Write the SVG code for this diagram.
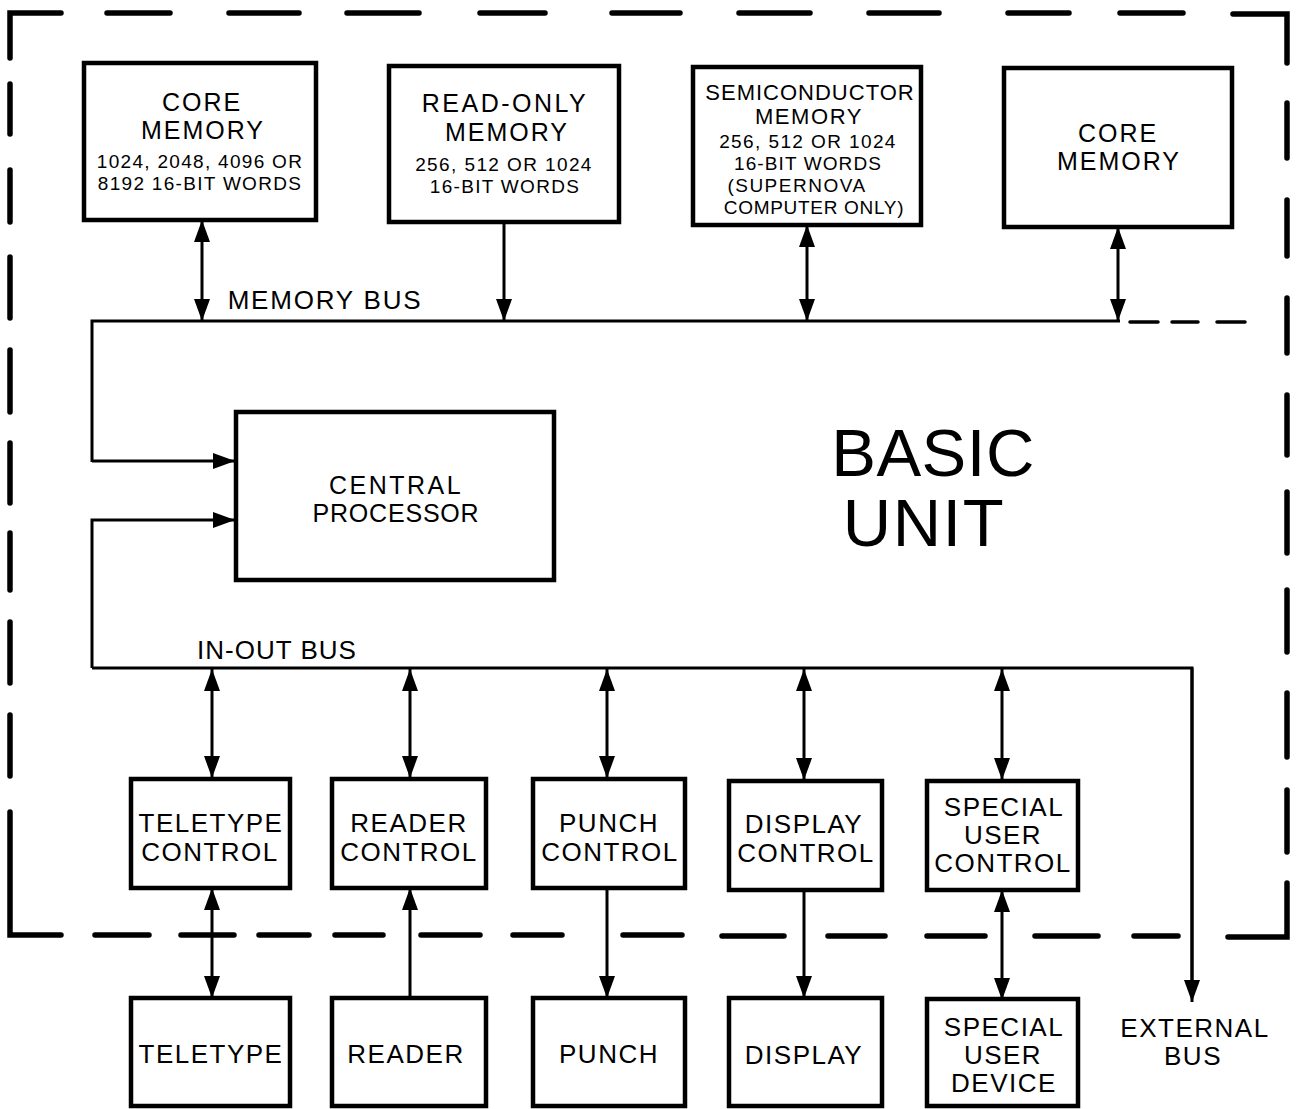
<svg xmlns="http://www.w3.org/2000/svg" width="1296" height="1109" viewBox="0 0 1296 1109">
<defs>
<marker id="ah" viewBox="0 0 22 16" refX="22" refY="8" markerWidth="22" markerHeight="16" markerUnits="userSpaceOnUse" orient="auto-start-reverse">
<path d="M0,0 L22,8 L0,16 Z" fill="#000"/>
</marker>
<style>
.box{fill:#fff;stroke:#000;stroke-width:4.5;stroke-linejoin:miter}
.t{font-family:"Liberation Sans",Arial,Helvetica,sans-serif;fill:#000;text-anchor:middle}
.lbl{font-size:26px;letter-spacing:1.5px}
.sm{font-size:19px;letter-spacing:1.3px}
.mem{font-size:25px;letter-spacing:2px}
.ln{fill:none;stroke:#000;stroke-width:3}
.arr2{fill:none;stroke:#000;stroke-width:3;marker-start:url(#ah);marker-end:url(#ah)}
.arr1{fill:none;stroke:#000;stroke-width:3;marker-end:url(#ah)}
.bd{fill:none;stroke:#000;stroke-width:5.5;stroke-linecap:round;stroke-linejoin:miter}
</style>
</defs>
<rect width="1296" height="1109" fill="#fff"/>

<g id="basic-unit-border">
<path class="bd" d="M10,58 L10,13 L61,13"/>
<path class="bd" d="M107,13H170M229,13H299M347,13H419M480,13H545M612,13H680M739,13H810M869,13H939M1008,13H1069M1120,13H1183"/>
<path class="bd" d="M1233,14 L1287,14 L1287,63"/>
<path class="bd" d="M1287,103V158M1287,200V256M1287,298V353M1287,395V455M1287,492V553M1287,590V652M1287,693V757M1287,790V852"/>
<path class="bd" d="M1287,883 L1287,937 L1228,937"/>
<path class="bd" d="M10,84V134M10,170V222M10,257V318M10,350V412M10,443V503M10,533V590M10,622V683M10,715V776"/>
<path class="bd" d="M10,812 L10,935 L61,935"/>
<path class="bd" d="M95,935H149M181,935H234M259,935H309M335,935H383M421,935H480M513,935H562M623,935H682M722,936H784M828,936H885M927,936H985M1035,936H1098M1134,936H1178"/>
<path class="bd" d="M1130,322H1158M1172,322H1198M1217,322H1245" style="stroke-width:3.5"/>
</g>

<g id="connectors">
<path class="ln" d="M1120,321 H92 V462"/>
<path class="arr1" d="M92,461 H235"/>
<path class="arr1" d="M92,668 V520 H235"/>
<path class="ln" d="M92,668 H1192 V980"/>
<path class="arr1" d="M1192,668 V1002"/>
<path class="arr2" d="M202,220 V321"/>
<path class="arr1" d="M504,222 V321"/>
<path class="arr2" d="M807,225 V321"/>
<path class="arr2" d="M1118,227 V321"/>
<path class="arr2" d="M212,669 V778"/>
<path class="arr2" d="M410,669 V778"/>
<path class="arr2" d="M607,669 V778"/>
<path class="arr2" d="M804,669 V780"/>
<path class="arr2" d="M1002,669 V780"/>
<path class="arr2" d="M212,888 V998"/>
<path class="arr1" d="M410,998 V888"/>
<path class="arr1" d="M607,888 V998"/>
<path class="arr1" d="M804,890 V998"/>
<path class="arr2" d="M1002,890 V1000"/>
</g>

<g id="labels">
<text class="t" x="325" y="309" style="font-size:26px;letter-spacing:1.8px">MEMORY BUS</text>
<text class="t" x="277" y="659" style="font-size:26px;letter-spacing:1px">IN-OUT BUS</text>
<text class="t" x="933" y="476" style="font-size:67px;letter-spacing:0.5px">BASIC</text>
<text class="t" x="924" y="546" style="font-size:67px;letter-spacing:1.5px">UNIT</text>
<text class="t lbl" x="1195" y="1037">EXTERNAL</text>
<text class="t lbl" x="1193" y="1065">BUS</text>
</g>

<g id="core-memory-1">
<rect class="box" x="84" y="63" width="232" height="157"/>
<text class="t mem" x="202" y="111">CORE</text>
<text class="t mem" x="203" y="139">MEMORY</text>
<text class="t sm" x="200" y="168">1024, 2048, 4096 OR</text>
<text class="t sm" x="200" y="190">8192 16-BIT WORDS</text>
</g>

<g id="read-only-memory">
<rect class="box" x="389" y="66" width="230" height="156"/>
<text class="t" x="505" y="112" style="font-size:25px;letter-spacing:2.5px">READ-ONLY</text>
<text class="t mem" x="507" y="141">MEMORY</text>
<text class="t" x="504" y="171" style="font-size:19px;letter-spacing:1.4px">256, 512 OR 1024</text>
<text class="t sm" x="505" y="193">16-BIT WORDS</text>
</g>

<g id="semiconductor-memory">
<rect class="box" x="693" y="67" width="228" height="158"/>
<text class="t" x="810" y="100" style="font-size:22px;letter-spacing:1px">SEMICONDUCTOR</text>
<text class="t" x="809" y="124" style="font-size:22px;letter-spacing:1.6px">MEMORY</text>
<text class="t" x="808" y="148" style="font-size:19px;letter-spacing:1.4px">256, 512 OR 1024</text>
<text class="t" x="808" y="170" style="font-size:19px;letter-spacing:1.1px">16-BIT WORDS</text>
<text class="t" x="797" y="192" style="font-size:19px;letter-spacing:1.5px">(SUPERNOVA</text>
<text class="t" x="814" y="214" style="font-size:19px;letter-spacing:0.7px">COMPUTER ONLY)</text>
</g>

<g id="core-memory-2">
<rect class="box" x="1004" y="68" width="228" height="159"/>
<text class="t mem" x="1118" y="142">CORE</text>
<text class="t mem" x="1119" y="170">MEMORY</text>
</g>

<g id="central-processor">
<rect class="box" x="236" y="412" width="318" height="168"/>
<text class="t" x="396" y="494" style="font-size:25px;letter-spacing:2.5px">CENTRAL</text>
<text class="t" x="396" y="522" style="font-size:25px;letter-spacing:0.8px">PROCESSOR</text>
</g>

<g id="teletype-control">
<rect class="box" x="131" y="779" width="159" height="109"/>
<text class="t lbl" x="211" y="832">TELETYPE</text>
<text class="t lbl" x="210" y="861">CONTROL</text>
</g>
<g id="reader-control">
<rect class="box" x="332" y="779" width="154" height="109"/>
<text class="t lbl" x="409" y="832">READER</text>
<text class="t lbl" x="409" y="861">CONTROL</text>
</g>
<g id="punch-control">
<rect class="box" x="533" y="779" width="152" height="109"/>
<text class="t lbl" x="609" y="832">PUNCH</text>
<text class="t lbl" x="610" y="861">CONTROL</text>
</g>
<g id="display-control">
<rect class="box" x="729" y="781" width="153" height="109"/>
<text class="t lbl" x="804" y="833">DISPLAY</text>
<text class="t lbl" x="806" y="862">CONTROL</text>
</g>
<g id="special-user-control">
<rect class="box" x="927" y="781" width="151" height="109"/>
<text class="t lbl" x="1004" y="816">SPECIAL</text>
<text class="t lbl" x="1003" y="844">USER</text>
<text class="t lbl" x="1003" y="872">CONTROL</text>
</g>

<g id="teletype">
<rect class="box" x="131" y="998" width="159" height="108"/>
<text class="t lbl" x="211" y="1063">TELETYPE</text>
</g>
<g id="reader">
<rect class="box" x="332" y="998" width="154" height="108"/>
<text class="t lbl" x="406" y="1063">READER</text>
</g>
<g id="punch">
<rect class="box" x="533" y="998" width="152" height="108"/>
<text class="t lbl" x="609" y="1063">PUNCH</text>
</g>
<g id="display">
<rect class="box" x="729" y="998" width="153" height="108"/>
<text class="t lbl" x="804" y="1064">DISPLAY</text>
</g>
<g id="special-user-device">
<rect class="box" x="927" y="999" width="151" height="107"/>
<text class="t lbl" x="1004" y="1036">SPECIAL</text>
<text class="t lbl" x="1003" y="1064">USER</text>
<text class="t lbl" x="1004" y="1092">DEVICE</text>
</g>
</svg>
